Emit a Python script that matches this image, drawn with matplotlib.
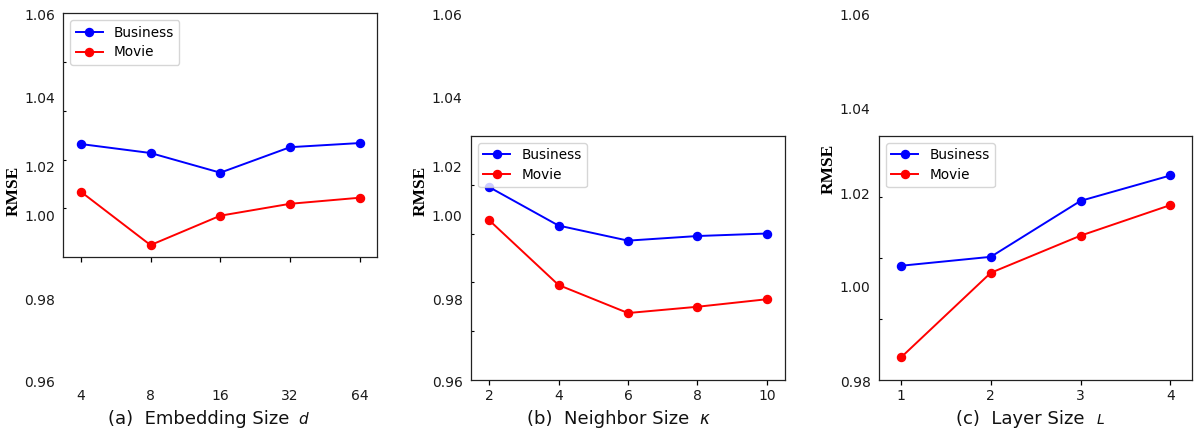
import numpy as np
import matplotlib.pyplot as plt

# values
d_sizes = ['4', '8', '16', '32', '64']
d_business = [1.0293, 1.0256, 1.0175, 1.0280, 1.0297]
d_movie = [1.0097, 0.9877, 0.9998, 1.0047, 1.0072]

k_sizes = [2, 4, 6, 8, 10]
k_business = [1.0068, 0.9976, 0.9940, 0.9951, 0.9957]
k_movie = [0.9989, 0.9834, 0.9767, 0.9782, 0.9800]

l_sizes = [1, 2, 3, 4]
l_business = [1.0043, 1.0062, 1.0181, 1.0235]
l_movie = [0.9848, 1.0028, 1.0107, 1.0172]

ytick_text = ['1.06', '1.04', '1.02', '1.00', '0.98', '0.96']

W, H = 1203, 430
fig = plt.figure(figsize=(W / 100, H / 100), dpi=100)

panels = [
    dict(x=np.arange(len(d_sizes)), xt=d_sizes, bus=d_business, mov=d_movie,
         box=(63.3, 13.3, 377.3, 257), xlim=(-0.25, 4.25), ylim=(0.9828, 1.0831), nint=5,
         rows=[14, 97.3, 166.7, 215.3, 299, 381], labels=ytick_text,
         title='(a)  Embedding Size', tx=108, var=r'$d$', vx=298, vs=11, rmse=(14, 191)),
    dict(x=np.array(k_sizes), xt=[str(k) for k in k_sizes], bus=k_business, mov=k_movie,
         box=(471, 136, 785, 380), xlim=(1.48, 10.52), ylim=(0.9607, 1.0190), nint=5,
         rows=[14, 97.3, 166.7, 215.3, 299, 381], labels=ytick_text,
         title='(b)  Neighbor Size', tx=527, var=r'$\kappa$', vx=699, vs=12, rmse=(421, 191)),
    dict(x=np.array(l_sizes), xt=[str(l) for l in l_sizes], bus=l_business, mov=l_movie,
         box=(879, 136, 1192.3, 380), xlim=(0.755, 4.245), ylim=(0.9800, 1.0319), nint=4,
         rows=[14, 109, 193, 286, 381], labels=ytick_text[:5],
         title='(c)  Layer Size', tx=956, var=r'$L$', vx=1096, vs=10, rmse=(829, 169)),
]

for p in panels:
    l, t, r, b = p['box']

    # tick label layer
    lab = fig.add_axes([l / W, 1 - 381 / H, (r - l) / W, (381 - 14) / H], zorder=0)
    lab.patch.set_visible(False)
    for s in lab.spines.values():
        s.set_visible(False)
    lab.set_xlim(p['xlim'])
    lab.set_ylim(381, 14)
    lab.set_xticks(p['x'], p['xt'])
    lab.set_yticks(p['rows'], p['labels'])
    lab.tick_params(axis='both', length=0, labelsize=10, colors='#1a1a1a')
    lab.tick_params(axis='y', pad=6)
    lab.tick_params(axis='x', pad=6)

    # data box
    ax = fig.add_axes([l / W, 1 - b / H, (r - l) / W, (b - t) / H], zorder=2)
    ax.plot(p['x'], p['bus'], color='blue', marker='o', ms=5.8, lw=1.4, label='Business')
    ax.plot(p['x'], p['mov'], color='red', marker='o', ms=5.8, lw=1.4, label='Movie')
    ax.set_xlim(p['xlim'])
    ax.set_ylim(p['ylim'])
    ax.set_xticks(p['x'])
    ax.set_xticklabels([])
    ax.set_yticks(np.linspace(p['ylim'][0], p['ylim'][1], p['nint'] + 1)[1:-1])
    ax.set_yticklabels([])
    ax.tick_params(axis='x', direction='out', length=3.5, width=0.9)
    ax.tick_params(axis='y', direction='in', length=2, width=0.8)
    for s in ax.spines.values():
        s.set_linewidth(0.9)
        s.set_color('#222222')
    ax.legend(loc='upper left', fontsize=9.8, labelspacing=0.42)

    fig.text(p['rmse'][0] / W, 1 - p['rmse'][1] / H, 'RMSE', rotation=90,
             family='Liberation Serif', weight='bold', fontsize=12.5,
             ha='center', va='center')
    fig.text(p['tx'] / W, 1 - 424 / H, p['title'], fontsize=13,
             ha='left', va='baseline', color='#111111')
    fig.text(p['vx'] / W, 1 - 424 / H, p['var'], fontsize=p['vs'],
             ha='left', va='baseline', color='#111111')

fig.savefig('out.png', dpi=100)
